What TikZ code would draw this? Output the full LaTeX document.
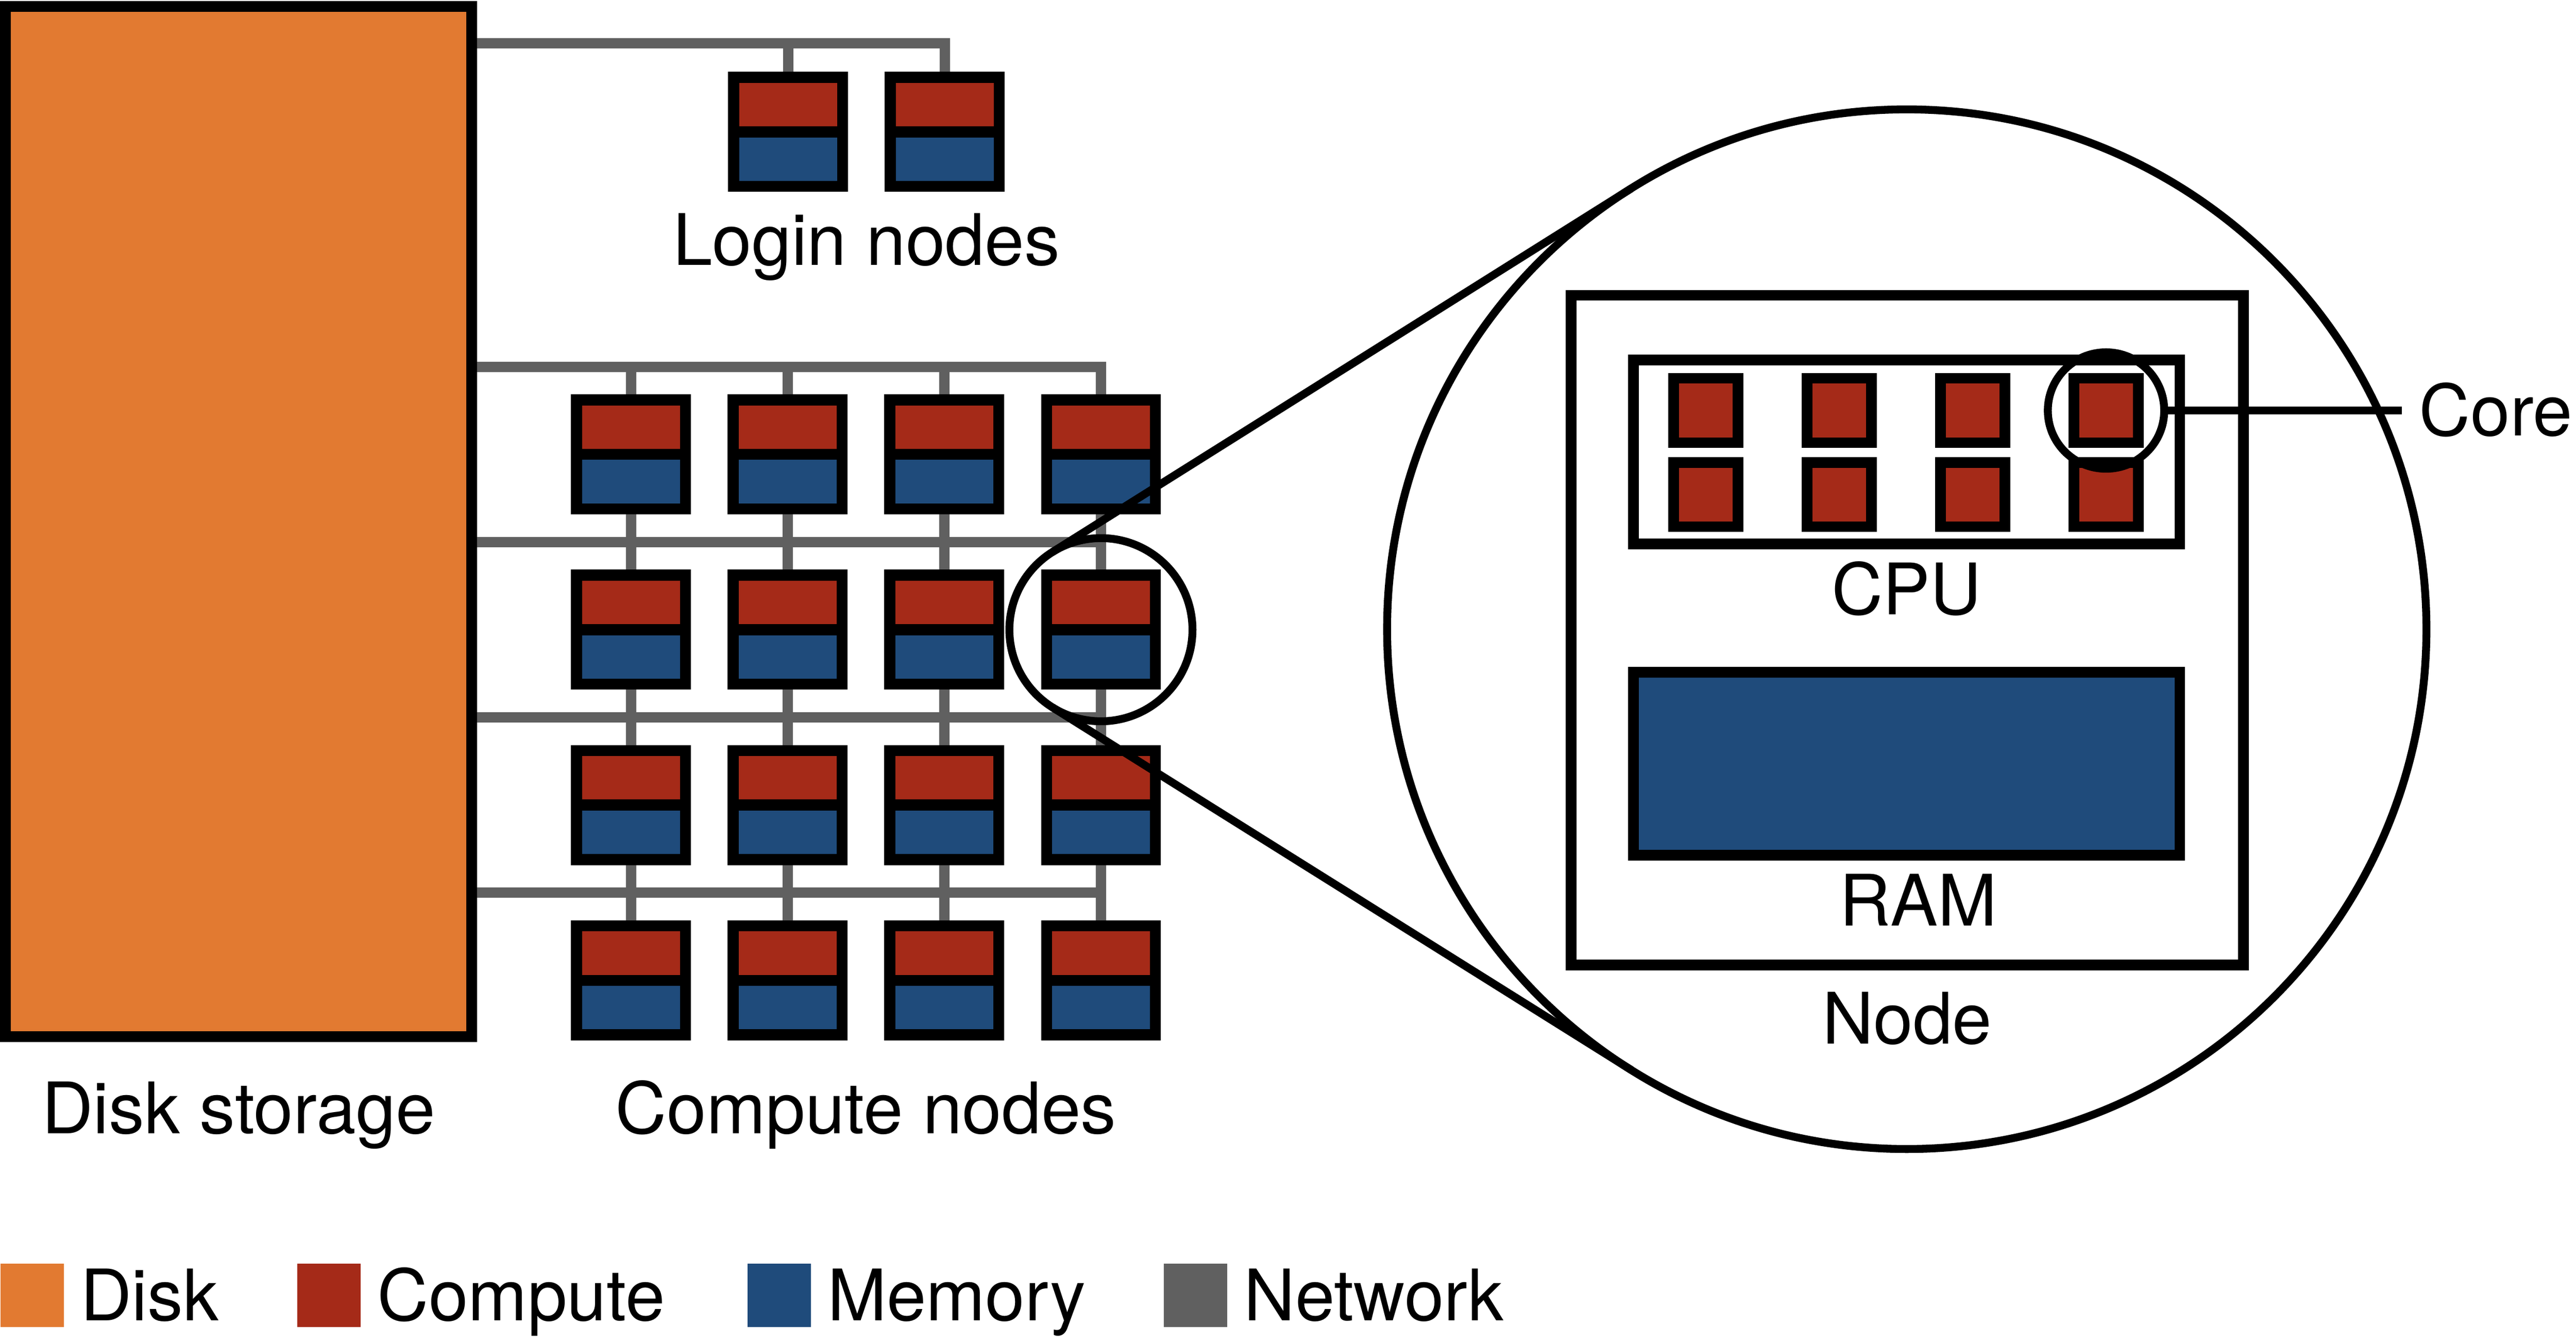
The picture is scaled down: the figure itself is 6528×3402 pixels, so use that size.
\documentclass[tikz,border=0pt]{standalone}
\usepackage{fontspec}
\setmainfont{TeX Gyre Heros}
\usetikzlibrary{positioning,calc,backgrounds}
\definecolor{diskorange}{RGB}{226,122,49}
\definecolor{computered}{RGB}{165,42,24}
\definecolor{memoryblue}{RGB}{31,75,123}
\definecolor{networkgray}{RGB}{96,96,96}
\tikzset{
	diskbox/.style={rectangle, draw=black, line width=2.7pt, fill=diskorange, minimum width=118.1pt, minimum height=261pt, inner sep=0pt, outer sep=0pt},
	hpcnode/.style={rectangle, fill=black, minimum width=30.4pt, minimum height=30.4pt, inner sep=0pt, outer sep=0pt,
		path picture={
			\fill[computered] ([xshift=2.8pt,yshift=-2.8pt]path picture bounding box.north west) rectangle ([xshift=-2.8pt,yshift=-13.8pt]path picture bounding box.north east);
			\fill[memoryblue] ([xshift=2.8pt,yshift=2.8pt]path picture bounding box.south west) rectangle ([xshift=-2.8pt,yshift=13.8pt]path picture bounding box.south east);
		}},
	corebox/.style={rectangle, draw=black, line width=2.7pt, fill=computered, minimum size=16.3pt, inner sep=0pt, outer sep=0pt},
	framebox/.style={rectangle, draw=black, line width=2.7pt, inner sep=0pt, outer sep=0pt},
	lensring/.style={circle, draw=black, line width=2pt, inner sep=0pt, outer sep=0pt},
	zoomline/.style={draw=black, line width=2pt},
	netline/.style={draw=networkgray, line width=2.6pt},
	lbl/.style={inner sep=0pt, text height=12.9pt, text depth=0pt, font=\fontsize{18pt}{21.6pt}\selectfont},
	swatch/.style={rectangle, minimum size=16.1pt, inner sep=0pt, outer sep=0pt},
}

\begin{document}
\begin{tikzpicture}[x=0.1pt, y=-0.1pt, node distance=14.03pt and 9.3pt]
	\useasboundingbox (0,0) rectangle (6528,3402);

	\node[diskbox] (disk) at (604.5,1321) {};
	\node[lbl, below=11.5pt of disk] (disklbl) {Disk storage};

	\node[hpcnode] (login1) at (1997,334) {};
	\node[hpcnode, right=of login1] (login2) {};
	\coordinate (loginmid) at ($(login1.south)!0.5!(login2.south)$);
	\node[lbl, below=5.5pt of loginmid] (loginlbl) {Login nodes};

	\node[hpcnode] (c11) at (1599,1151) {};
	\node[hpcnode, right=of c11] (c12) {};
	\node[hpcnode, right=of c12] (c13) {};
	\node[hpcnode, right=of c13] (c14) {};
	\node[hpcnode, below=of c11] (c21) {};
	\node[hpcnode, right=of c21] (c22) {};
	\node[hpcnode, right=of c22] (c23) {};
	\node[hpcnode, right=of c23] (c24) {};
	\node[hpcnode, below=of c21] (c31) {};
	\node[hpcnode, right=of c31] (c32) {};
	\node[hpcnode, right=of c32] (c33) {};
	\node[hpcnode, right=of c33] (c34) {};
	\node[hpcnode, below=of c31] (c41) {};
	\node[hpcnode, right=of c41] (c42) {};
	\node[hpcnode, right=of c42] (c43) {};
	\node[hpcnode, right=of c43] (c44) {};
	\coordinate (gridmid) at ($(c41.south)!0.5!(c44.south)$);
	\node[lbl, below=10.5pt of gridmid] (gridlbl) {Compute nodes};

	\coordinate (loginbus) at ([yshift=7.2pt]login1.north);
	\coordinate (bus1) at ([yshift=7pt]c11.north);
	\coordinate (bus2) at ($(c11.south)!0.5!(c21.north)$);
	\coordinate (bus3) at ($(c21.south)!0.5!(c31.north)$);
	\coordinate (bus4) at ($(c31.south)!0.5!(c41.north)$);
	\begin{scope}[on background layer]
		\draw[netline] (disk.east |- loginbus) -| (login2.north);
		\draw[netline] (login1.north |- loginbus) -- (login1.north);
		\draw[netline] (disk.east |- bus1) -| (c44.north);
		\draw[netline] (disk.east |- bus2) -- (c24.north |- bus2);
		\draw[netline] (disk.east |- bus3) -- (c34.north |- bus3);
		\draw[netline] (disk.east |- bus4) -- (c44.north |- bus4);
		\draw[netline] (c11.north |- bus1) -- (c41.north);
		\draw[netline] (c12.north |- bus1) -- (c42.north);
		\draw[netline] (c13.north |- bus1) -- (c43.north);
	\end{scope}

	\node[lensring, minimum size=46.4pt] (ring) at (c24) {};
	\node[lensring, minimum size=263.4pt] (lens) at (4832,1594) {};
	\draw[zoomline] (ring.122) -- (lens.122);
	\draw[zoomline] (ring.-122) -- (lens.-122);

	\node[framebox, minimum width=170.4pt, minimum height=169.7pt] (frame) at (4833,1596.5) {};
	\node[lbl, below=6.9pt of frame] (framelbl) {Node};
	\node[framebox, minimum width=138.5pt, minimum height=46.6pt] (cpu) at (4831.5,1145) {};
	\node[lbl, below=4.8pt of cpu] (cpulbl) {CPU};
	\node[framebox, fill=memoryblue, minimum width=138.5pt, minimum height=46.4pt] (ram) at (4831.5,1935) {};
	\node[lbl, below=4.7pt of ram, xshift=3pt] (ramlbl) {RAM};

	\node[corebox] (core11) at (4323,1040) {};
	\node[corebox, right=17.5pt of core11] (core12) {};
	\node[corebox, right=17.5pt of core12] (core13) {};
	\node[corebox, right=17.5pt of core13] (core14) {};
	\node[corebox, below=5pt of core11] (core21) {};
	\node[corebox, right=17.5pt of core21] (core22) {};
	\node[corebox, right=17.5pt of core22] (core23) {};
	\node[corebox, right=17.5pt of core23] (core24) {};
	\node[lensring, minimum size=29.5pt] (corering) at (core14) {};
	\coordinate (coretip) at (6086,1040);
	\draw[zoomline] (corering.east) -- (coretip);
	\node[lbl, right=4.3pt of coretip] (corelbl) {Core};

	\node[swatch, fill=diskorange] (keydisk) at (81.5,3281.5) {};
	\node[lbl, right=4pt of keydisk] (keydisklbl) {Disk};
	\node[swatch, fill=computered] (keycompute) at (834,3281.5) {};
	\node[lbl, right=4pt of keycompute] (keycomputelbl) {Compute};
	\node[swatch, fill=memoryblue] (keymemory) at (1974.5,3281.5) {};
	\node[lbl, right=4pt of keymemory] (keymemorylbl) {Memory};
	\node[swatch, fill=networkgray] (keynetwork) at (3030,3281.5) {};
	\node[lbl, right=4pt of keynetwork] (keynetworklbl) {Network};
\end{tikzpicture}
\end{document}
